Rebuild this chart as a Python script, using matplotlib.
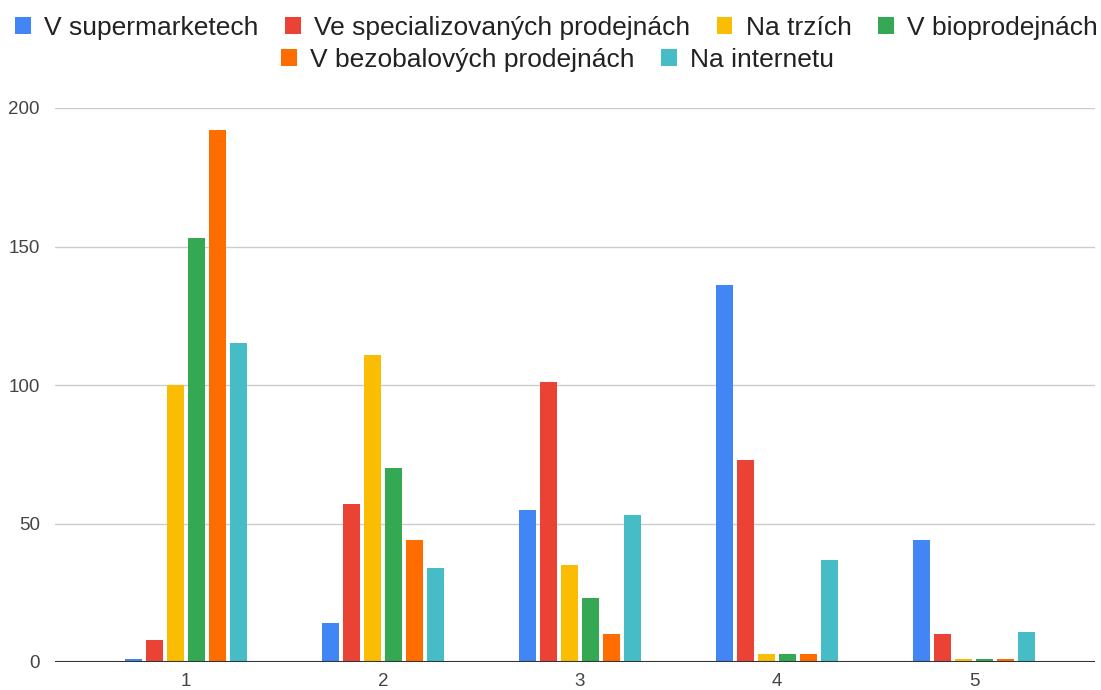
import numpy as np
import matplotlib.pyplot as plt
from matplotlib.patches import Patch

plt.rcParams['font.family'] = ['Liberation Sans', 'DejaVu Sans']

categories = [1, 2, 3, 4, 5]
series_names = ["V supermarketech", "Ve specializovaných prodejnách", "Na trzích",
                "V bioprodejnách", "V bezobalových prodejnách", "Na internetu"]
supermarkety = [1, 14, 55, 136, 44]
specializovane = [8, 57, 101, 73, 10]
trhy = [100, 111, 35, 3, 1]
bio = [153, 70, 23, 3, 1]
bezobalove = [192, 44, 10, 3, 1]
internet = [115, 34, 53, 37, 11]
y_ticks = [0, 50, 100, 150, 200]

values = [supermarkety, specializovane, trhy, bio, bezobalove, internet]
colors = ["#4285F4", "#EA4335", "#FBBC04", "#34A853", "#FF6D01", "#46BDC6"]

fig = plt.figure(figsize=(11.01, 6.9), dpi=100)
ax = fig.add_axes([55 / 1101, 28 / 690, 1040 / 1101, 554 / 690])

x = np.array(categories, dtype=float)
step = 0.107
width = 0.087
for i, (vals, col) in enumerate(zip(values, colors)):
    ax.bar(x + (i - 2.5) * step, vals, width=width, color=col, zorder=3)

ax.set_xlim(1 - 131 / 197, 5 + 121 / 197)
ax.set_ylim(0, 200)
ax.set_yticks(y_ticks)
ax.set_xticks(categories)
ax.yaxis.grid(True, color="#cccccc", linewidth=1, zorder=0)
ax.axhline(0, color="#333333", linewidth=1.5, zorder=4)
for s in ax.spines.values():
    s.set_visible(False)
ax.tick_params(axis="both", length=0, labelsize=13.5, colors="#444444", pad=11)
ax.tick_params(axis="x", pad=8)

handles = [Patch(facecolor=c, edgecolor="none") for c in colors]
leg_kw = dict(loc="center", frameon=False, fontsize=19, handlelength=0.6,
              handleheight=0.6, handletextpad=0.5, columnspacing=1.0,
              borderpad=0, labelcolor="#222222")
fig.legend(handles[:4], series_names[:4], ncol=4,
           bbox_to_anchor=(0.5 + 6 / 1101, 1 - 28 / 690), **leg_kw)
fig.legend(handles[4:], series_names[4:], ncol=2,
           bbox_to_anchor=(0.5 + 7 / 1101, 1 - 60 / 690), **leg_kw)

fig.savefig("out.png", dpi=100)
